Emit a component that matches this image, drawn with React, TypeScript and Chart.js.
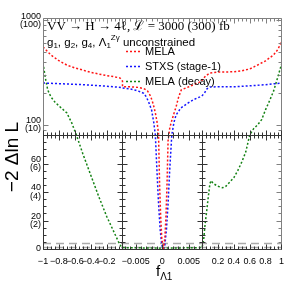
import React, { useEffect, useRef } from 'react';
import { Chart, registerables } from 'chart.js';
Chart.register(...registerables);

const W = 291;
const H = 286;

// ---- data (f_Λ1 , -2ΔlnL) per axis segment ----
const RED_LEFT_F = [-1, -0.9, -0.8, -0.7, -0.6, -0.5, -0.4, -0.3, -0.2, -0.1, -0.03, 0];
const RED_LEFT_V = [555, 465, 410, 373, 350, 334, 318, 306, 296, 288, 280, 262];
const RED_MID_F = [-0.0075, -0.006, -0.0045, -0.0035, -0.0028, -0.0022, -0.0017, -0.0013, -0.001, -0.0007, -0.0005, -0.0003, -0.0001, 0.0002, 0.0005, 0.0007, 0.0009, 0.0011, 0.0014, 0.0017, 0.0022, 0.0026, 0.0031, 0.0036, 0.0049, 0.0062, 0.0075];
const RED_MID_V = [232, 231, 228, 222, 212, 188, 158, 130, 108, 82, 45, 23, 8, 0, 8, 23, 45, 76, 92, 106, 128, 148, 185, 216, 230, 246, 262];
const RED_RIGHT_F = [0, 0.05, 0.1, 0.2, 0.3, 0.4, 0.5, 0.6, 0.7, 0.8, 0.9, 0.95, 1];
const RED_RIGHT_V = [268, 295, 313, 320, 320, 322, 328, 342, 373, 409, 466, 520, 620];

const BLUE_LEFT_F = [-1, -0.5, -0.2, -0.05, 0];
const BLUE_LEFT_V = [251, 242, 234, 229, 226];
const BLUE_MID_F = [-0.0075, -0.006, -0.005, -0.004, -0.0035, -0.003, -0.0025, -0.002, -0.0016, -0.0013, -0.001, -0.0007, -0.0004, -0.0001, 0.0002, 0.0005, 0.0008, 0.0011, 0.0014, 0.0018, 0.0022, 0.0026, 0.0035, 0.0049, 0.006, 0.0071, 0.0075];
const BLUE_MID_V = [225, 220, 214, 206, 200, 185, 162, 138, 105, 80, 55, 32, 14, 3, 0, 3, 14, 32, 55, 80, 105, 124, 145, 162, 175, 185, 190];
const BLUE_RIGHT_F = [0, 0.03, 0.06, 0.1, 0.2, 0.3, 0.45, 0.6, 0.8, 1];
const BLUE_RIGHT_V = [190, 200, 220, 230, 231, 231, 232, 236, 242, 251];

const GREEN_LEFT_F = [-1, -0.97, -0.94, -0.9, -0.85, -0.8, -0.7, -0.64, -0.58, -0.5, -0.4, -0.3, -0.2, -0.1, -0.05, -0.02, 0];
const GREEN_LEFT_V = [390, 280, 215, 185, 165, 152, 130, 105, 80, 67, 52, 37, 23, 11, 5, 2, 1];
const GREEN_MID_F = [-0.0075, -0.004, 0, 0.004, 0.0075];
const GREEN_MID_V = [1, 0.8, 0.6, 0.8, 1];
const GREEN_RIGHT_F = [0, 0.02, 0.04, 0.06, 0.08, 0.1, 0.115, 0.14, 0.2, 0.26, 0.3, 0.35, 0.4, 0.45, 0.5, 0.55, 0.6, 0.65, 0.7, 0.75, 0.8, 0.85, 0.9, 0.95, 1];
const GREEN_RIGHT_V = [1, 6, 18, 27, 37, 46, 48, 46, 44, 43, 44, 47, 50, 55, 61, 68, 80, 92, 100, 112, 140, 170, 210, 280, 380];

const CL_LEVELS = [1, 3.84];

const X_TICK_LABELS = ['\u22121', '\u22120.8', '\u22120.6', '\u22120.4', '\u22120.2', '\u22120.005', '0', '0.005', '0.2', '0.4', '0.6', '0.8', '1'];
const X_TICK_SEG = ['L', 'L', 'L', 'L', 'L', 'M', 'M', 'M', 'R', 'R', 'R', 'R', 'R'];
const X_TICK_F = [-1, -0.8, -0.6, -0.4, -0.2, -0.005, 0, 0.005, 0.2, 0.4, 0.6, 0.8, 1];
const Y_TICK_V = [0, 20, 40, 60, 100, 1000];
const Y_TICK_LABELS = [['0'], ['20', '(2)'], ['40', '(4)'], ['60', '(6)'], ['100', '(10)'], ['1000', '(100)']];

const LEGEND = ['MELA', 'STXS (stage-1)', 'MELA (decay)'];
const COLORS = ['rgb(255,20,20)', 'rgb(20,20,255)', 'rgb(20,130,20)'];

// ---- broken-axis coordinate mapping ----
const LIN_MAX = 80;
const LOG_MAX = 1050;
const SPLIT = 114 / 231;
const MID_HALF = 0.0075;

function ty(v: number) {
  if (v <= LIN_MAX) return (SPLIT * v) / LIN_MAX;
  return SPLIT + ((1 - SPLIT) * Math.log10(v / LIN_MAX)) / Math.log10(LOG_MAX / LIN_MAX);
}
function tx(seg: string, f: number) {
  if (seg === 'L') return f + 1;
  if (seg === 'M') return 1 + (f + MID_HALF) / (2 * MID_HALF);
  return 2 + f;
}
function pts(seg: string, fs: number[], vs: number[]) {
  return fs.map((f, i) => ({ x: tx(seg, f), y: ty(vs[i]) }));
}

const SANS = '"Liberation Sans", Arial, sans-serif';
const SERIF = '"Liberation Serif", "Times New Roman", serif';

function drawRich(ctx: CanvasRenderingContext2D, parts: any[], x: number, y: number, family: string) {
  let cx = x;
  for (const p of parts) {
    ctx.font = `${p.size}px ${family}`;
    ctx.fillText(p.t, cx, y + (p.dy || 0));
    cx += ctx.measureText(p.t).width;
  }
}

const framePlugin = {
  id: 'frame',
  afterDatasetsDraw(chart: any) {
    const ctx: CanvasRenderingContext2D = chart.ctx;
    const xs = chart.scales.x;
    const ys = chart.scales.y;
    const { left, right, top, bottom } = chart.chartArea;
    const X = (u: number) => xs.getPixelForValue(u);
    const Y = (t: number) => ys.getPixelForValue(t);
    const r = (p: number) => Math.round(p) + 0.5;
    const ySplit = r(Y(ty(LIN_MAX)));
    const xB1 = r(X(1));
    const xB2 = r(X(2));
    const L = r(left), R = r(right), T = r(top), B = r(bottom);

    ctx.save();
    ctx.lineWidth = 1;
    const seg = (x1: number, y1: number, x2: number, y2: number, c: string) => {
      ctx.strokeStyle = c;
      ctx.beginPath();
      ctx.moveTo(x1, y1);
      ctx.lineTo(x2, y2);
      ctx.stroke();
    };
    const FR = '#808080';
    const DK = '#333333';

    // frame
    seg(L, T, R, T, FR);
    seg(R, T, R, B, FR);
    seg(L, T, L, ySplit, FR);
    seg(L, ySplit, L, B, DK);
    seg(L, B, R, B, DK);
    seg(L, ySplit, R, ySplit, DK);
    seg(xB1, ySplit, xB1, B, DK);
    seg(xB2, ySplit, xB2, B, DK);

    // y ticks
    const yTicks: [number, number][] = [];
    for (let v = 0; v < LIN_MAX; v += 5) yTicks.push([v, v % 20 === 0 ? 5 : 3]);
    [90, 200, 300, 400, 500, 600, 700, 800, 900].forEach((v) => yTicks.push([v, 3]));
    [100, 1000].forEach((v) => yTicks.push([v, 5]));
    for (const [v, len] of yTicks) {
      const y = r(Y(ty(v)));
      const c = v <= LIN_MAX ? DK : FR;
      seg(L, y, L + len, y, c);
      seg(R, y, R - len, y, FR);
      if (v <= LIN_MAX) {
        seg(xB1 - len, y, xB1 + len, y, DK);
        seg(xB2 - len, y, xB2 + len, y, DK);
      }
    }

    // x ticks
    const xTicks: [number, number][] = [];
    for (let i = 0; i <= 20; i++) {
      const f = -1 + i * 0.05;
      xTicks.push([tx('L', f), i % 4 === 0 ? 5 : 3]);
      xTicks.push([tx('R', i * 0.05), i % 4 === 0 ? 5 : 3]);
    }
    for (let i = -7; i <= 7; i++) {
      const f = i * 0.001;
      xTicks.push([tx('M', f), i % 5 === 0 ? 5 : 3]);
    }
    for (const [u, len] of xTicks) {
      const x = r(X(u));
      seg(x, B, x, B - len, DK);
      seg(x, T, x, T + len, FR);
      seg(x, ySplit - len, x, ySplit + len, DK);
    }
    ctx.restore();
  },
  afterDraw(chart: any) {
    const ctx: CanvasRenderingContext2D = chart.ctx;
    ctx.save();
    ctx.fillStyle = '#000';
    ctx.textBaseline = 'alphabetic';
    // header line 1
    ctx.font = `13px ${SERIF}`;
    ctx.fillText('VV \u2192 H \u2192 4\u2113, \u2112 = 3000 (300) fb', 47, 30);
    // header line 2
    drawRich(
      ctx,
      [
        { t: 'g', size: 11.5 },
        { t: '1', size: 8, dy: 2 },
        { t: ', g', size: 11.5 },
        { t: '2', size: 8, dy: 2 },
        { t: ', g', size: 11.5 },
        { t: '4', size: 8, dy: 2 },
        { t: ', \u039B', size: 11.5 },
        { t: '1', size: 8, dy: 2 },
        { t: 'Z\u03B3', size: 8, dy: -6 },
        { t: ' unconstrained', size: 11.5 },
      ],
      47,
      46,
      SANS
    );
    // legend
    LEGEND.forEach((txt, i) => {
      const y = 51.5 + i * 15;
      ctx.strokeStyle = COLORS[i];
      ctx.lineWidth = 1.5;
      ctx.setLineDash([2, 2]);
      ctx.beginPath();
      ctx.moveTo(126, y);
      ctx.lineTo(142, y);
      ctx.stroke();
      ctx.setLineDash([]);
      ctx.font = `11px ${SANS}`;
      ctx.textBaseline = 'middle';
      ctx.fillText(txt, 145, y);
    });
    // x title
    ctx.textBaseline = 'alphabetic';
    drawRich(ctx, [{ t: 'f', size: 15 }, { t: '\u039B1', size: 10, dy: 4 }], 156, 276, SANS);
    // y title
    ctx.translate(18, 157);
    ctx.rotate(-Math.PI / 2);
    ctx.textAlign = 'center';
    ctx.font = `19px ${SANS}`;
    ctx.fillText('\u22122 \u0394ln L', 0, 0);
    ctx.restore();
  },
};

export default function App() {
  const ref = useRef<HTMLCanvasElement | null>(null);
  useEffect(() => {
    if (!ref.current) return;
    const line = (data: any[], color: string) => ({
      data,
      borderColor: color,
      borderWidth: 1.5,
      borderDash: [2, 2],
      pointRadius: 0,
      fill: false,
      tension: 0,
    });
    const red = [...pts('L', RED_LEFT_F, RED_LEFT_V), ...pts('M', RED_MID_F, RED_MID_V), ...pts('R', RED_RIGHT_F, RED_RIGHT_V)];
    const blue = [...pts('L', BLUE_LEFT_F, BLUE_LEFT_V), ...pts('M', BLUE_MID_F, BLUE_MID_V), ...pts('R', BLUE_RIGHT_F, BLUE_RIGHT_V)];
    const green = [...pts('L', GREEN_LEFT_F, GREEN_LEFT_V), ...pts('M', GREEN_MID_F, GREEN_MID_V), ...pts('R', GREEN_RIGHT_F, GREEN_RIGHT_V)];
    const clSets = CL_LEVELS.map((lv) => ({
      data: [
        { x: 0, y: ty(lv) },
        { x: 3, y: ty(lv) },
      ],
      borderColor: '#aaaaaa',
      borderWidth: 1.5,
      borderDash: [8, 5],
      pointRadius: 0,
      fill: false,
    }));
    const chart = new Chart(ref.current, {
      type: 'line',
      data: {
        datasets: [line(red, COLORS[0]), line(blue, COLORS[1]), line(green, COLORS[2]), ...clSets] as any,
      },
      options: {
        animation: false,
        responsive: false,
        parsing: false as any,
        layout: { padding: { left: 0, top: 18, right: 7, bottom: 0 } },
        plugins: { legend: { display: false }, tooltip: { enabled: false } },
        scales: {
          x: {
            type: 'linear',
            min: 0,
            max: 3,
            grid: { display: false, drawTicks: false },
            border: { display: false },
            afterBuildTicks: (s: any) => {
              s.ticks = X_TICK_F.map((f, i) => ({ value: tx(X_TICK_SEG[i], f) }));
            },
            afterFit: (s: any) => {
              s.height = 37;
            },
            ticks: {
              autoSkip: false,
              maxRotation: 0,
              minRotation: 0,
              padding: 7,
              color: '#000',
              font: { family: SANS, size: 9 },
              callback: (_v: any, i: number) => X_TICK_LABELS[i],
            },
          },
          y: {
            type: 'linear',
            min: 0,
            max: 1,
            grid: { display: false, drawTicks: false },
            border: { display: false },
            afterBuildTicks: (s: any) => {
              s.ticks = Y_TICK_V.map((v) => ({ value: ty(v) }));
            },
            afterFit: (s: any) => {
              s.width = 43;
            },
            ticks: {
              autoSkip: false,
              padding: 2,
              color: '#000',
              font: { family: SANS, size: 9, lineHeight: 0.9 },
              callback: (_v: any, i: number) => Y_TICK_LABELS[i],
            },
          },
        },
      } as any,
      plugins: [framePlugin as any],
    });
    return () => chart.destroy();
  }, []);
  return (
    <div style={{ position: 'absolute', left: 0, top: 0, width: W, height: H, background: '#fff' }}>
      <canvas ref={ref} width={W} height={H} style={{ display: 'block', width: W, height: H }} />
    </div>
  );
}
